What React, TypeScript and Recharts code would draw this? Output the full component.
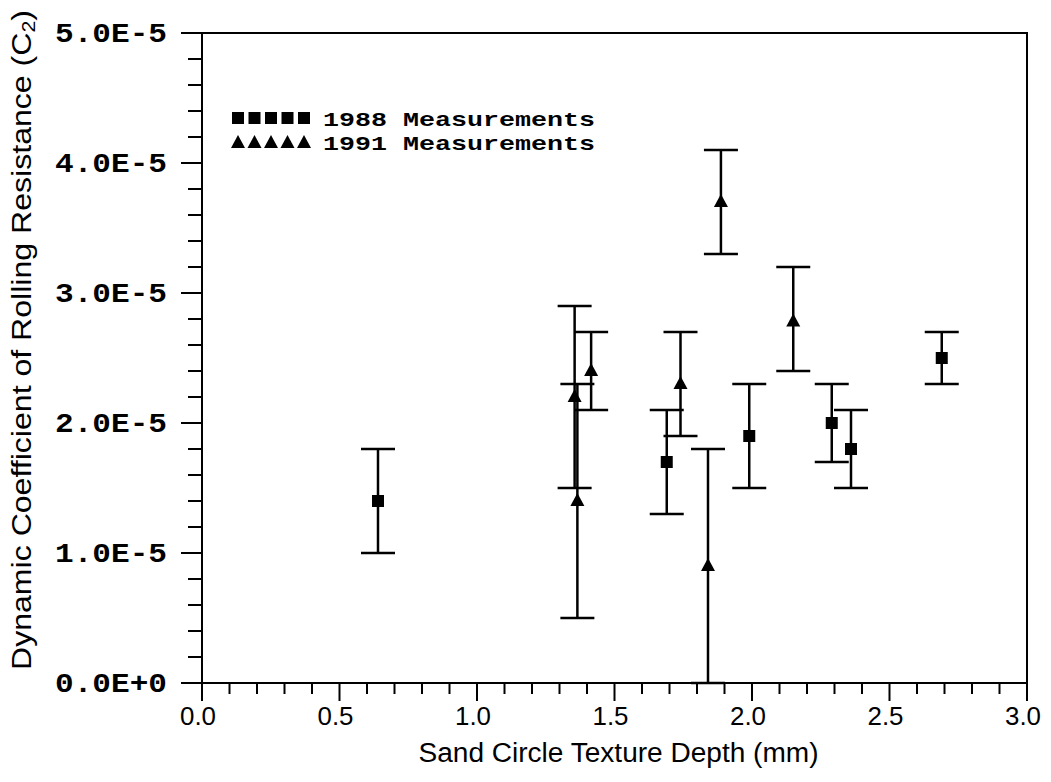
import React from 'react';
import { ScatterChart, Scatter, XAxis, YAxis, ErrorBar, ReferenceArea, Legend, Label } from 'recharts';

// ---- data (C2 values in units of 1E-5) ----
const depth1988 = [0.64, 1.69, 1.99, 2.29, 2.36, 2.69];
const coef1988 = [1.4, 1.7, 1.9, 2.0, 1.8, 2.5];
const err1988 = [0.4, 0.4, 0.4, 0.3, 0.3, 0.2];

const depth1991 = [1.355, 1.365, 1.415, 1.74, 1.84, 1.887, 2.15];
const coef1991 = [2.2, 1.4, 2.4, 2.3, 0.9, 3.7, 2.78];
const errLow1991 = [0.7, 0.9, 0.3, 0.4, 0.9, 0.4, 0.38];
const errHigh1991 = [0.7, 0.9, 0.3, 0.4, 0.9, 0.4, 0.42];

const seriesNames = ['1988 Measurements', '1991 Measurements'];

const xMajorTicks = [0, 0.5, 1, 1.5, 2, 2.5, 3];
const xTickLabels = ['0.0', '0.5', '1.0', '1.5', '2.0', '2.5', '3.0'];
const yMajorTicks = [0, 1, 2, 3, 4, 5];
const yTickLabels = ['0.0E+0', '1.0E-5', '2.0E-5', '3.0E-5', '4.0E-5', '5.0E-5'];

const xTitle = 'Sand Circle Texture Depth (mm)';
const yTitle = 'Dynamic Coefficient of Rolling Resistance (C';

const xMinorTicks: number[] = [];
for (let i = 0; i <= 30; i++) xMinorTicks.push(i / 10);
const yMinorTicks: number[] = [];
for (let i = 0; i <= 25; i++) yMinorTicks.push(i / 5);

const data1988 = depth1988.map((d, i) => ({ x: d, y: coef1988[i], err: err1988[i] }));
const data1991 = depth1991.map((d, i) => ({ x: d, y: coef1991[i], err: [errLow1991[i], errHigh1991[i]] }));

const findMajor = (list: number[], v: number) => list.findIndex((t) => Math.abs(t - v) < 1e-6);

const XTick = (props: any) => {
  const { x, y, payload } = props;
  const idx = findMajor(xMajorTicks, payload.value);
  const major = idx >= 0;
  return (
    <g>
      <line x1={x} y1={y} x2={x} y2={y + (major ? 18 : 11)} stroke="#000" strokeWidth={2} />
      {major && (
        <text x={x - 4} y={y + 42} textAnchor="middle" fontFamily="Liberation Sans" fontSize={26} fill="#000"
          textLength={36} lengthAdjust="spacingAndGlyphs">
          {xTickLabels[idx]}
        </text>
      )}
    </g>
  );
};

const YTick = (props: any) => {
  const { x, y, payload } = props;
  const idx = findMajor(yMajorTicks, payload.value);
  const major = idx >= 0;
  return (
    <g>
      <line x1={x} y1={y} x2={x - (major ? 21 : 14)} y2={y} stroke="#000" strokeWidth={2} />
      {major && (
        <text x={x - 35} y={y + 9} textAnchor="end" fontFamily="Liberation Mono" fontWeight="bold" fontSize={27}
          fill="#000" textLength={112} lengthAdjust="spacingAndGlyphs">
          {yTickLabels[idx]}
        </text>
      )}
    </g>
  );
};

const XTitle = (props: any) => {
  const vb = props.viewBox || { x: 0, y: 0, width: 0, height: 0 };
  const cx = vb.x + vb.width / 2 + 4;
  const cy = vb.y + 79;
  return (
    <text x={cx} y={cy} textAnchor="middle" fontFamily="Liberation Sans" fontSize={27} fill="#000"
      textLength={400} lengthAdjust="spacingAndGlyphs">
      {xTitle}
    </text>
  );
};

const YTitle = (props: any) => {
  const vb = props.viewBox || { x: 0, y: 0, width: 0, height: 0 };
  const cx = vb.x - 120;
  const cy = vb.y + vb.height / 2 - 18;
  return (
    <text x={cx} y={cy} transform={`rotate(-90 ${cx} ${cy})`} textAnchor="middle" dominantBaseline="central"
      fontFamily="Liberation Sans" fontSize={27} fill="#000" textLength={660} lengthAdjust="spacingAndGlyphs">
      {yTitle}
      <tspan fontSize={18} dy={7}>2</tspan>
      <tspan dy={-7}>)</tspan>
    </text>
  );
};

const SquareShape = (p: any) => <rect x={p.cx - 6} y={p.cy - 6} width={12} height={12} fill="#000" />;
const TriangleShape = (p: any) => (
  <polygon points={`${p.cx},${p.cy - 8} ${p.cx - 7},${p.cy + 5} ${p.cx + 7},${p.cy + 5}`} fill="#000" />
);

const LegendContent = () => {
  const pitch = 16.5;
  const rows = [0, 1];
  return (
    <svg width={420} height={60}>
      {rows.map((r) => {
        const cy = 14 + r * 24;
        return (
          <g key={r}>
            {[0, 1, 2, 3, 4].map((k) => {
              const mx = 9 + k * pitch;
              return r === 0 ? (
                <rect key={k} x={mx} y={cy - 6} width={12} height={12} fill="#000" />
              ) : (
                <polygon key={k} points={`${mx + 6},${cy - 7} ${mx - 1},${cy + 6} ${mx + 13},${cy + 6}`} fill="#000" />
              );
            })}
            <text x={100} y={cy + 8} fontFamily="Liberation Mono" fontWeight="bold" fontSize={21} fill="#000"
              textLength={272} lengthAdjust="spacingAndGlyphs">
              {seriesNames[r]}
            </text>
          </g>
        );
      })}
    </svg>
  );
};

export default function App() {
  return (
    <div style={{ width: 1043, height: 774, background: '#fff' }}>
      <ScatterChart width={1043} height={774} margin={{ top: 25, right: 24, left: 134, bottom: 59 }}
        style={{ overflow: 'visible' }}>
        <XAxis type="number" dataKey="x" domain={[0, 3]} ticks={xMinorTicks} interval={0} tickSize={0}
          tickMargin={0} tickLine={false} tick={<XTick />} height={40} axisLine={{ stroke: '#000', strokeWidth: 2 }}>
          <Label content={<XTitle />} />
        </XAxis>
        <YAxis type="number" dataKey="y" domain={[0, 5]} ticks={yMinorTicks} interval={0} tickSize={0}
          tickMargin={0} tickLine={false} tick={<YTick />} width={60} axisLine={{ stroke: '#000', strokeWidth: 2 }}>
          <Label content={<YTitle />} />
        </YAxis>
        <ReferenceArea x1={0} x2={3} y1={0} y2={5} fill="none" fillOpacity={0} stroke="#000" strokeWidth={2} />
        <Scatter name={seriesNames[0]} data={data1988} shape={<SquareShape />} isAnimationActive={false}>
          <ErrorBar dataKey="err" direction="y" width={17} stroke="#000" strokeWidth={2.5} />
        </Scatter>
        <Scatter name={seriesNames[1]} data={data1991} shape={<TriangleShape />} isAnimationActive={false}>
          <ErrorBar dataKey="err" direction="y" width={17} stroke="#000" strokeWidth={2.5} />
        </Scatter>
        <Legend layout="horizontal" verticalAlign="middle" align="center" content={<LegendContent />}
          wrapperStyle={{ position: 'absolute', left: 215, top: 96, width: 420, height: 60 }} />
      </ScatterChart>
    </div>
  );
}
